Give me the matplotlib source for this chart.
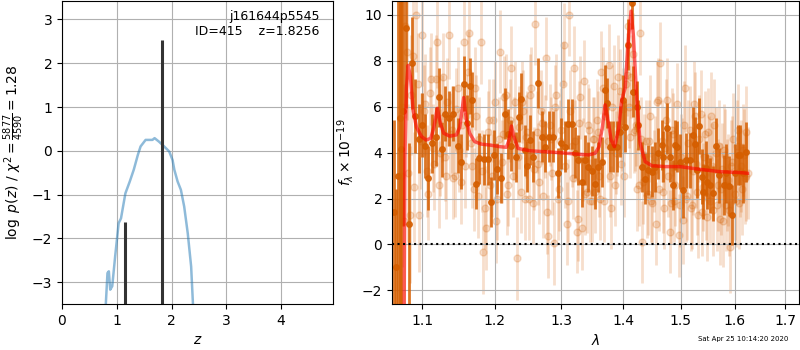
import matplotlib
matplotlib.use("Agg")
import matplotlib.pyplot as plt
from matplotlib.ticker import ScalarFormatter, NullLocator

# p(z) curve
z_grid = [0.80, 0.83, 0.855, 0.88, 0.917, 0.97, 1.034, 1.077, 1.157, 1.237, 1.31,
          1.385, 1.434, 1.526, 1.65, 1.69, 1.77, 1.865, 1.957, 2.018, 2.05, 2.11,
          2.17, 2.23, 2.295, 2.357, 2.39]
log_pz = [-3.49, -2.79, -2.75, -3.17, -3.09, -2.41, -1.65, -1.54, -0.97, -0.70, -0.43,
          -0.09, 0.10, 0.25, 0.25, 0.29, 0.21, 0.10, -0.015, -0.21, -0.43, -0.70,
          -0.89, -1.27, -1.88, -2.64, -3.49]
# redshift candidates
z_cand = [1.8256, 1.145]
cand_top = [2.52, -1.63]

# binned spectrum
lam_bin = [1.0630, 1.0655, 1.0690, 1.0710, 1.0730, 1.0752, 1.0786, 1.0829, 1.0873, 1.0910,
           1.0960, 1.0995, 1.1035, 1.1079, 1.1130, 1.1190, 1.1226, 1.1271, 1.1303, 1.1361,
           1.1416, 1.1485, 1.1531, 1.1563, 1.1609, 1.1646, 1.1674, 1.1730, 1.1777, 1.1843,
           1.1900, 1.1943, 1.1990, 1.2034, 1.2090, 1.2146, 1.2195, 1.2244, 1.2317, 1.2352,
           1.2391, 1.2441, 1.2480, 1.2520, 1.2570, 1.2646, 1.2697, 1.2748, 1.2809, 1.2876,
           1.2940, 1.2997, 1.3059, 1.3111, 1.3164, 1.3216, 1.3269, 1.3322, 1.3375, 1.3428,
           1.3482, 1.3536, 1.3590, 1.3645, 1.3700, 1.3727, 1.3782, 1.3838, 1.3893, 1.3948,
           1.3990, 1.4032, 1.4088, 1.4144, 1.4173, 1.4230, 1.4258, 1.4315, 1.4373, 1.4431,
           1.4489, 1.4547, 1.4605, 1.4663, 1.4690, 1.4749, 1.4808, 1.4867, 1.4900, 1.4930,
           1.4988, 1.5047, 1.5100, 1.5160, 1.5220, 1.5250, 1.5290, 1.5340, 1.5380, 1.5410,
           1.5460, 1.5480, 1.5540, 1.5590, 1.5650, 1.5710, 1.5790, 1.5840, 1.5900, 1.5950,
           1.6010, 1.6060, 1.6110, 1.6160, 1.6220]
flux_bin = [1.4, -1.0, 3.0, 5.5, 4.15, 5.8, 9.43, 0.9, 7.9, 5.6,
            4.6, 5.2, 4.3, 2.9, 4.4, 4.7, 6.4, 4.15, 5.7, 5.5,
            5.7, 4.3, 3.6, 7.0, 5.3, 6.9, 6.3, 2.65, 3.75, 3.7,
            3.7, 1.85, 3.9, 3.3, 2.9, 5.7, 4.8, 4.3, 3.8, 5.55,
            6.35, 4.1, 3.4, 4.55, 3.82, 7.03, 4.7, 4.26, 4.7, 4.7,
            3.12, 4.4, 4.26, 5.25, 5.25, 4.0, 3.67, 2.73, 3.67, 3.38,
            3.2, 2.65, 3.38, 3.6, 6.73, 6.15, 4.26, 4.26, 4.26, 4.91,
            6.3, 5.13, 8.7, 10.5, 6.66, 6.0, 5.2, 3.38, 2.87, 3.24,
            3.17, 3.38, 3.97, 4.33, 3.82, 5.06, 3.82, 2.58, 4.33, 4.26,
            3.6, 2.36, 3.67, 3.67, 4.77, 4.37, 3.24, 5.16, 2.95, 2.29,
            3.31, 2.73, 2.58, 2.22, 4.3, 3.02, 2.58, 3.09, 2.54, 1.27,
            3.09, 3.9, 3.9, 3.09, 4.04]
err_bin = [4.0, 3.4, 9.0, 9.0, 7.0, 5.0, 3.5, 3.5, 2.0, 1.6,
           1.5, 1.4, 1.4, 1.4, 1.3, 1.3, 1.3, 1.2, 1.2, 1.2,
           1.2, 1.2, 1.2, 1.2, 1.2, 1.2, 1.2, 1.1, 1.1, 1.1,
           1.1, 1.1, 1.1, 1.1, 1.1, 1.1, 1.1, 1.1, 1.1, 1.1,
           1.1, 1.1, 1.1, 1.1, 1.1, 1.1, 1.1, 1.1, 1.1, 1.1,
           1.1, 1.1, 1.1, 1.1, 1.1, 1.1, 1.1, 1.1, 1.1, 1.1,
           1.1, 1.1, 1.1, 1.1, 1.1, 1.1, 1.1, 1.1, 1.1, 1.1,
           1.1, 1.1, 1.1, 1.1, 1.1, 1.1, 1.1, 1.1, 1.1, 1.1,
           1.1, 1.1, 1.1, 1.1, 1.1, 1.1, 1.1, 1.1, 1.1, 1.1,
           1.2, 1.2, 1.2, 1.2, 1.2, 1.2, 1.2, 1.2, 1.2, 1.2,
           1.2, 1.2, 1.2, 1.2, 1.2, 1.2, 1.3, 1.3, 1.3, 1.3,
           1.3, 1.3, 1.3, 1.3, 1.3]

# unbinned spectrum, first set
lam_raw = [1.072, 1.076, 1.080, 1.084, 1.088, 1.092, 1.096, 1.100, 1.104, 1.108,
           1.112, 1.116, 1.120, 1.124, 1.128, 1.132, 1.136, 1.140, 1.144, 1.148,
           1.152, 1.156, 1.160, 1.164, 1.168, 1.172, 1.176, 1.180, 1.184, 1.188,
           1.192, 1.196, 1.200, 1.204, 1.208, 1.212, 1.216, 1.220, 1.224, 1.228,
           1.232, 1.236, 1.240, 1.244, 1.248, 1.252, 1.256, 1.260, 1.264, 1.268,
           1.272, 1.276, 1.280, 1.284, 1.288, 1.292, 1.296, 1.300, 1.304, 1.308,
           1.312, 1.316, 1.320, 1.324, 1.328, 1.332, 1.336, 1.340, 1.344, 1.348,
           1.352, 1.356, 1.360, 1.364, 1.368, 1.372, 1.376, 1.380, 1.384, 1.388,
           1.392, 1.396, 1.400, 1.404, 1.408, 1.412, 1.416, 1.420, 1.424, 1.428,
           1.432, 1.436, 1.440, 1.444, 1.448, 1.452, 1.456, 1.460, 1.464, 1.468,
           1.472, 1.476, 1.480, 1.484, 1.488, 1.492, 1.496, 1.500, 1.504, 1.508,
           1.512, 1.516, 1.520, 1.524, 1.528, 1.532, 1.536, 1.540, 1.544, 1.548,
           1.552, 1.556, 1.560, 1.564, 1.568, 1.572, 1.576, 1.580, 1.584, 1.588,
           1.592, 1.596, 1.600, 1.604, 1.608, 1.612, 1.616, 1.620, 1.623, 1.626]
flux_raw = [3.0, 1.0, 8.4, 1.3, 8.2, 10.0, 1.3, 9.1, 6.1, 2.2,
            7.2, 3.5, 8.8, 4.0, 7.3, 3.0, 9.1, 5.0, 3.0, 6.8,
            2.7, 8.8, 5.6, 9.2, 3.4, 6.8, 2.1, 8.8, -0.35, 0.7,
            5.4, 3.0, 6.2, 2.0, 8.4, 4.8, 6.5, 2.6, 7.7, 4.6,
            -0.6, 5.1, 6.2, 2.0, 4.9, 6.5, 1.8, 9.6, 3.5, 5.8,
            2.1, 8.1, 0.35, 4.6, 0.05, 6.5, 2.4, 5.0, 8.7, 0.9,
            10.0, 4.3, 7.7, 0.55, 5.3, 0.7, 7.1, 2.3, 5.0, 1.9,
            4.6, 5.4, 3.0, 7.5, 1.9, 6.0, 7.8, 1.6, 6.9, 4.0,
            7.3, 3.5, 5.9, 7.0, 9.5, 4.7, 8.3, 5.0, 2.4, 9.2,
            0.1, 3.9, 2.1, 4.5, 1.9, 3.2, 0.9, 6.3, 7.9, 2.3,
            4.2, 6.3, 0.55, 5.0, 1.9, 3.4, 0.4, 3.8, 1.06, 6.8,
            2.1, 5.0, 1.7, 6.1, 3.5, 1.3, 5.7, 2.5, 4.8, 1.2,
            3.7, 5.6, 1.5, 4.0, 2.6, 1.1, 3.3, 4.1, 1.7, 2.8,
            -0.1, 3.6, 2.2, 4.3, 1.8, 3.4, 4.1, 2.9, 4.9, 3.1]
err_raw = [8.0, 6.0, 3.0, 3.0, 2.5, 2.5, 2.5, 2.2, 2.2, 2.0,
           2.0, 2.0, 2.0, 1.9, 1.9, 1.9, 1.9, 1.9, 1.8, 1.8,
           1.8, 1.8, 1.8, 1.8, 1.8, 1.8, 1.8, 1.8, 1.8, 1.8,
           1.8, 1.8, 1.8, 1.8, 1.8, 1.8, 1.8, 1.8, 1.8, 1.8,
           1.8, 1.8, 1.8, 1.8, 1.8, 1.8, 1.8, 1.8, 1.8, 1.8,
           1.8, 1.8, 1.8, 1.8, 1.8, 1.8, 1.8, 1.8, 1.8, 1.8,
           1.8, 1.8, 1.8, 1.8, 1.8, 1.8, 1.8, 1.8, 1.8, 1.8,
           1.8, 1.8, 1.8, 1.8, 1.8, 1.8, 1.8, 1.8, 1.8, 1.8,
           1.8, 1.8, 1.8, 1.8, 1.8, 1.8, 1.8, 1.8, 1.8, 1.8,
           1.8, 1.8, 1.8, 1.8, 1.8, 1.8, 1.8, 1.8, 1.8, 1.8,
           1.8, 1.8, 1.8, 1.8, 1.8, 1.8, 1.8, 1.9, 1.9, 1.9,
           1.9, 1.9, 1.9, 1.9, 1.9, 1.9, 1.9, 1.9, 1.9, 1.9,
           1.9, 1.9, 2.0, 2.0, 2.0, 2.0, 2.0, 2.0, 2.0, 2.0,
           2.0, 2.0, 2.0, 2.0, 2.0, 2.0, 2.0, 2.0, 2.0, 2.0]

# unbinned spectrum, second set
lam_raw2 = [1.074, 1.078, 1.082, 1.086, 1.090, 1.094, 1.098, 1.102, 1.106, 1.110,
            1.114, 1.118, 1.122, 1.126, 1.130, 1.134, 1.138, 1.142, 1.146, 1.150,
            1.154, 1.158, 1.162, 1.166, 1.170, 1.174, 1.178, 1.182, 1.186, 1.190,
            1.194, 1.198, 1.202, 1.206, 1.210, 1.214, 1.218, 1.222, 1.226, 1.230,
            1.234, 1.238, 1.242, 1.246, 1.250, 1.254, 1.258, 1.262, 1.266, 1.270,
            1.274, 1.278, 1.282, 1.286, 1.290, 1.294, 1.298, 1.302, 1.306, 1.310,
            1.314, 1.318, 1.322, 1.326, 1.330, 1.334, 1.338, 1.342, 1.346, 1.350,
            1.354, 1.358, 1.362, 1.366, 1.370, 1.374, 1.378, 1.382, 1.386, 1.390,
            1.394, 1.398, 1.402, 1.406, 1.410, 1.414, 1.418, 1.422, 1.426, 1.430,
            1.434, 1.438, 1.442, 1.446, 1.450, 1.454, 1.458, 1.462, 1.466, 1.470,
            1.474, 1.478, 1.482, 1.486, 1.490, 1.494, 1.498, 1.502, 1.506, 1.510,
            1.514, 1.518, 1.522, 1.526, 1.530, 1.534, 1.538, 1.542, 1.546, 1.550,
            1.554, 1.558, 1.562, 1.566, 1.570, 1.574, 1.578, 1.582, 1.586, 1.590,
            1.594, 1.598, 1.602, 1.606, 1.610, 1.614, 1.618, 1.622]
flux_raw2 = [6.0, 9.5, 3.1, 6.5, 2.5, 7.0, 4.5, 5.8, 3.2, 6.6,
             4.2, 7.2, 2.6, 5.5, 3.8, 6.2, 4.8, 2.9, 5.9, 4.1,
             5.2, 3.4, 7.5, 4.4, 2.4, 5.6, 4.6, 3.2, 1.6, 4.9,
             2.6, 5.4, 1.0, 4.6, 3.6, 6.4, 2.2, 5.4, 3.0, 6.2,
             3.8, 2.3, 5.8, 4.7, 2.0, 6.8, 3.3, 4.9, 2.7, 5.3,
             4.7, 1.4, 5.2, 3.1, 6.0, 2.0, 4.5, 7.0, 3.4, 1.9,
             5.8, 2.9, 4.5, 1.1, 6.4, 3.7, 2.2, 5.2, 1.9, 4.6,
             2.3, 4.9, 2.0, 6.8, 5.6, 4.5, 3.0, 6.0, 2.6, 4.8,
             6.7, 5.0, 3.0, 7.4, 6.0, 7.3, 4.9, 5.2, 2.6, 4.6,
             2.7, 4.5, 2.2, 5.6, 1.8, 3.8, 6.2, 2.4, 4.5, 1.6,
             5.4, 3.0, 1.8, 4.8, 2.6, 6.1, 1.7, 3.6, 5.2, 2.0,
             4.4, 1.6, 3.2, 5.6, 2.3, 4.6, 1.4, 3.8, 2.1, 4.9,
             1.9, 3.4, 5.2, 1.7, 4.3, 2.4, 1.0, 3.9, 2.6, 1.5,
             3.4, 4.6, 1.9, 5.0, 3.2, 2.4, 3.9, 3.0]
err_raw2 = [7.0, 4.0, 3.0, 2.6, 2.4, 2.2, 2.1, 2.0, 2.0, 2.0,
            1.9, 1.9, 1.9, 1.9, 1.9, 1.9, 1.8, 1.8, 1.8, 1.8,
            1.8, 1.8, 1.8, 1.8, 1.8, 1.8, 1.8, 1.8, 1.8, 1.8,
            1.8, 1.8, 1.8, 1.8, 1.8, 1.8, 1.8, 1.8, 1.8, 1.8,
            1.8, 1.8, 1.8, 1.8, 1.8, 1.8, 1.8, 1.8, 1.8, 1.8,
            1.8, 1.8, 1.8, 1.8, 1.8, 1.8, 1.8, 1.8, 1.8, 1.8,
            1.8, 1.8, 1.8, 1.8, 1.8, 1.8, 1.8, 1.8, 1.8, 1.8,
            1.8, 1.8, 1.8, 1.8, 1.8, 1.8, 1.8, 1.8, 1.8, 1.8,
            1.8, 1.8, 1.8, 1.8, 1.8, 1.8, 1.8, 1.8, 1.8, 1.8,
            1.8, 1.8, 1.8, 1.8, 1.8, 1.8, 1.8, 1.8, 1.8, 1.8,
            1.8, 1.8, 1.8, 1.8, 1.8, 1.8, 1.8, 1.9, 1.9, 1.9,
            1.9, 1.9, 1.9, 1.9, 1.9, 1.9, 1.9, 1.9, 1.9, 1.9,
            1.9, 1.9, 2.0, 2.0, 2.0, 2.0, 2.0, 2.0, 2.0, 2.0,
            2.0, 2.0, 2.0, 2.0, 2.0, 2.0, 2.0, 2.0]

# best-fit model
lam_model = [1.0764, 1.0776, 1.0795, 1.0817, 1.0847, 1.0882, 1.0926, 1.0993, 1.1052, 1.1115,
             1.1156, 1.1203, 1.1244, 1.1289, 1.1370, 1.1461, 1.1508, 1.1563, 1.1600, 1.1646,
             1.1715, 1.1808, 1.1930, 1.2068, 1.2170, 1.2209, 1.2244, 1.2279, 1.2342, 1.2517,
             1.2955, 1.3216, 1.3428, 1.3536, 1.3601, 1.3656, 1.3700, 1.3755, 1.3799, 1.3854,
             1.3921, 1.3976, 1.4032, 1.4088, 1.4133, 1.4173, 1.4230, 1.4287, 1.4373, 1.4489,
             1.4721, 1.4988, 1.5352, 1.5726, 1.6107, 1.6249]
flux_model = [-4.0, 3.8, 6.8, 7.8, 7.3, 5.85, 5.1, 4.7, 4.55, 4.62,
              5.1, 5.93, 5.27, 4.84, 4.72, 4.77, 5.1, 6.4, 5.4, 4.84,
              4.48, 4.37, 4.33, 4.26, 4.23, 4.55, 5.16, 4.7, 4.18, 4.08,
              4.0, 3.94, 3.9, 3.97, 4.26, 5.13, 6.08, 5.28, 4.55, 4.26,
              4.99, 6.3, 6.81, 8.92, 10.16, 9.07, 6.3, 4.41, 3.61, 3.43,
              3.39, 3.39, 3.27, 3.17, 3.13, 3.1]

grism = '#D55E00'

fig = plt.figure(figsize=(8, 3.5), dpi=100)
ax1 = fig.add_axes([0.0775, 0.131, 0.339, 0.866])
ax2 = fig.add_axes([0.49, 0.131, 0.509, 0.866])

# left: redshift probability
ax1.plot(z_grid, log_pz, color='tab:blue', alpha=0.5, lw=1.8)
ax1.vlines(z_cand, -3.5, cand_top, color='0.2', lw=2.2)
ax1.set_xlim(0, 4.95)
ax1.set_ylim(-3.5, 3.42)
ax1.set_xticks([0, 1, 2, 3, 4])
ax1.set_yticks([-3, -2, -1, 0, 1, 2, 3])
ax1.grid()
ax1.set_xlabel(r'$z$')
ax1.set_ylabel(r'$\log\ p(z)$ / $\chi^2=\frac{5877}{4590}=1.28$')
ax1.text(0.95, 0.97, 'j161644p5545\nID=415    z=1.8256', transform=ax1.transAxes,
         ha='right', va='top', fontsize=9)

# right: 1D spectrum
ax2.errorbar(lam_raw, flux_raw, yerr=err_raw, fmt='o', color=grism, alpha=0.2,
             ms=5, elinewidth=2, zorder=1)
ax2.errorbar(lam_raw2, flux_raw2, yerr=err_raw2, fmt='o', color=grism, alpha=0.2,
             ms=5, elinewidth=2, zorder=1)
ax2.errorbar(lam_bin, flux_bin, yerr=err_bin, fmt='o', color=grism, alpha=0.85,
             ms=4, elinewidth=2, zorder=2)
ax2.plot(lam_model, flux_model, color='r', alpha=0.6, lw=2.5, zorder=3)
ax2.axhline(0, color='k', ls=':', lw=1.5, zorder=4)

ax2.set_xscale('log')
ax2.set_xlim(1.061, 1.729)
ax2.set_ylim(-2.6, 10.6)
ax2.set_xticks([1.1, 1.2, 1.3, 1.4, 1.5, 1.6, 1.7])
ax2.xaxis.set_major_formatter(ScalarFormatter())
ax2.xaxis.set_minor_locator(NullLocator())
ax2.set_yticks([-2, 0, 2, 4, 6, 8, 10])
ax2.grid()
ax2.set_xlabel(r'$\lambda$')
ax2.set_ylabel(r'$f_\lambda\times10^{-19}$')

fig.text(0.985, 0.031, 'Sat Apr 25 10:14:20 2020', ha='right', va='center', fontsize=5)

fig.savefig('out.png', dpi=100)
